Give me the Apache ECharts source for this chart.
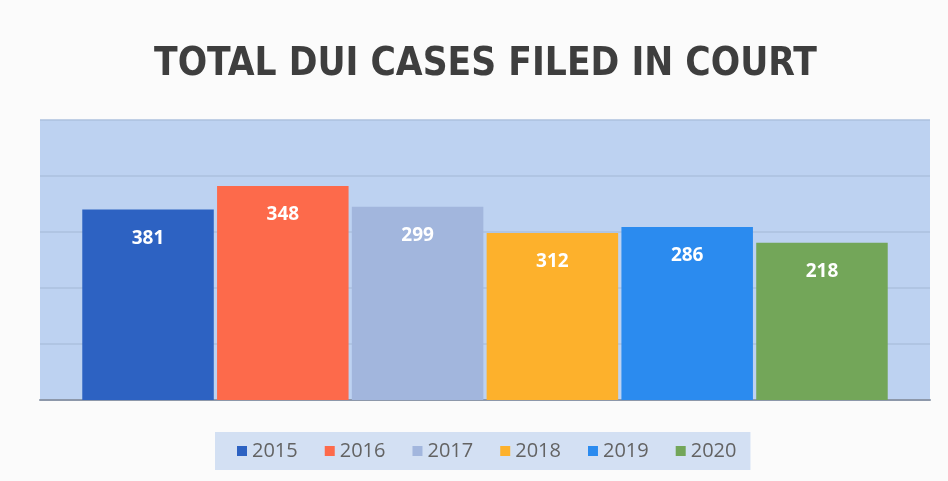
<!DOCTYPE html>
<html>
<head>
<meta charset="utf-8">
<script src="https://cdn.jsdelivr.net/npm/echarts@6/dist/echarts.min.js"></script>
<style>
  html, body { margin: 0; padding: 0; background: #fbfbfb; }
  #chart { width: 948px; height: 481px; }
</style>
</head>
<body>
<div id="chart"></div>
<script>
// años (cada uno es una serie, como en la gráfica original)
var years = ['2015', '2016', '2017', '2018', '2019', '2020'];
// alturas de las barras
var barHeights = [340, 382, 345, 298, 309, 281];
// etiquetas impresas sobre cada barra
var barLabels = ['381', '348', '299', '312', '286', '218'];
var colors = ['#2d62c2', '#fd6a4b', '#a2b6dd', '#fdb12c', '#2b8bef', '#73a659'];
var yTicks = [0, 100, 200, 300, 400, 500];

var chart = echarts.init(document.getElementById('chart'));

var series = years.map(function (year, i) {
  return {
    name: year,
    type: 'bar',
    data: [barHeights[i]],
    barGap: '2.5%',
    barCategoryGap: '9.5%',
    itemStyle: { color: colors[i] },
    label: {
      show: true,
      position: 'insideTop',
      distance: 19,
      color: '#ffffff',
      fontWeight: 'bold',
      fontSize: 19,
      fontFamily: 'Open Sans',
      formatter: function () { return barLabels[i]; }
    }
  };
});

var option = {
  backgroundColor: '#fbfbfb',
  color: colors,
  title: {
    text: 'TOTAL DUI CASES FILED IN COURT',
    left: 149,
    top: 40,
    textStyle: {
      fontFamily: '"DejaVu Sans Condensed", "Liberation Sans Narrow", "Liberation Sans", sans-serif',
      fontWeight: 'bold',
      fontSize: 38.5,
      color: '#3e3e3e'
    }
  },
  legend: {
    data: years,
    top: 432,
    left: 215,
    itemWidth: 10,
    itemHeight: 10,
    itemGap: 27,
    icon: 'rect',
    padding: [9, 14, 9, 22],
    backgroundColor: '#d3e0f3',
    textStyle: { color: '#636363', fontSize: 20, fontFamily: 'Open Sans' }
  },
  grid: {
    left: 40,
    right: 18,
    top: 120,
    bottom: 81,
    show: true,
    backgroundColor: '#bdd2f1',
    borderWidth: 0
  },
  xAxis: {
    type: 'category',
    data: ['DUI'],
    axisLabel: { show: false },
    axisTick: { show: false },
    axisLine: { lineStyle: { color: '#8d98aa', width: 2 } }
  },
  yAxis: {
    type: 'value',
    min: yTicks[0],
    max: yTicks[yTicks.length - 1],
    interval: 100,
    axisLabel: { show: false },
    axisLine: { show: false },
    axisTick: { show: false },
    splitLine: { lineStyle: { color: '#adc0de', width: 1.5 } }
  },
  series: series
};

chart.setOption(option);
</script>
</body>
</html>
